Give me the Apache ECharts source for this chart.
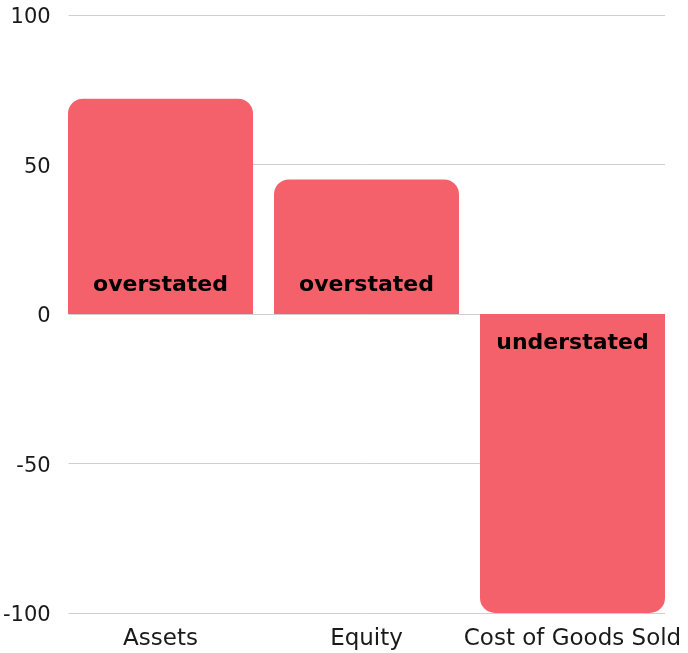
<!DOCTYPE html>
<html lang="en">
<head>
  <meta charset="UTF-8">
  <title>Misstatement chart</title>
  <script src="https://cdn.jsdelivr.net/npm/echarts@6/dist/echarts.min.js"></script>
  <style>
    html, body { margin: 0; padding: 0; background: #fff; }
    #target { width: 688px; height: 653px; }
  </style>
</head>
<body>
  <div id="target"></div>
  <script>
    const categories = ['Assets', 'Equity', 'Cost of Goods Sold'];
    const values = [72, 45, -100];
    const barLabels = ['overstated', 'overstated', 'understated'];
    const yTicks = [-100, -50, 0, 50, 100];

    const FONT = "'DejaVu Sans', sans-serif";
    const RED = '#f5616a';

    const yMin = yTicks[0], yMax = yTicks[yTicks.length - 1];

    // bars: rounded on the end away from zero, label sits near zero
    const barData = values.map((v, i) => ({
      value: v,
      itemStyle: { borderRadius: v >= 0 ? [15, 15, 0, 0] : [0, 0, 15, 15] },
      label: {
        show: true,
        formatter: barLabels[i],
        position: v >= 0 ? 'insideBottom' : 'insideTop',
        distance: 18
      }
    }));

    const option = {
      animation: false,
      grid: [
        // grid for y labels + split lines
        { left: 68, right: 23, top: 15, bottom: 40 },
        // grid for bars, slightly wider so bars touch the line ends
        { left: 57.5, right: 12.5, top: 15, bottom: 40 }
      ],
      xAxis: [
        { type: 'value', gridIndex: 0, show: false, min: 0, max: 1 },
        {
          type: 'category',
          gridIndex: 1,
          data: categories,
          axisLine: { show: false },
          axisTick: { show: false },
          axisLabel: { interval: 0, color: '#1a1a1a', fontFamily: FONT, fontSize: 23, margin: 15 }
        }
      ],
      yAxis: [
        {
          type: 'value',
          gridIndex: 0,
          min: yMin,
          max: yMax,
          interval: 50,
          axisLine: { show: false },
          axisTick: { show: false },
          splitLine: { lineStyle: { color: '#cfcfcf', width: 1 } },
          axisLabel: {
            margin: 18,
            formatter: '{t|{value}}',
            rich: { t: { color: '#1a1a1a', fontFamily: FONT, fontSize: 21, padding: [6, 0, 0, 0] } }
          }
        },
        { type: 'value', gridIndex: 1, min: yMin, max: yMax, interval: 50, show: false, splitLine: { show: false } }
      ],
      series: [
        {
          type: 'bar',
          xAxisIndex: 1,
          yAxisIndex: 1,
          barWidth: 185,
          data: barData,
          itemStyle: { color: RED },
          label: { color: '#000', fontFamily: FONT, fontWeight: 'bold', fontSize: 22 }
        }
      ]
    };
    echarts.init(document.getElementById('target')).setOption(option);
  </script>
</body>
</html>
